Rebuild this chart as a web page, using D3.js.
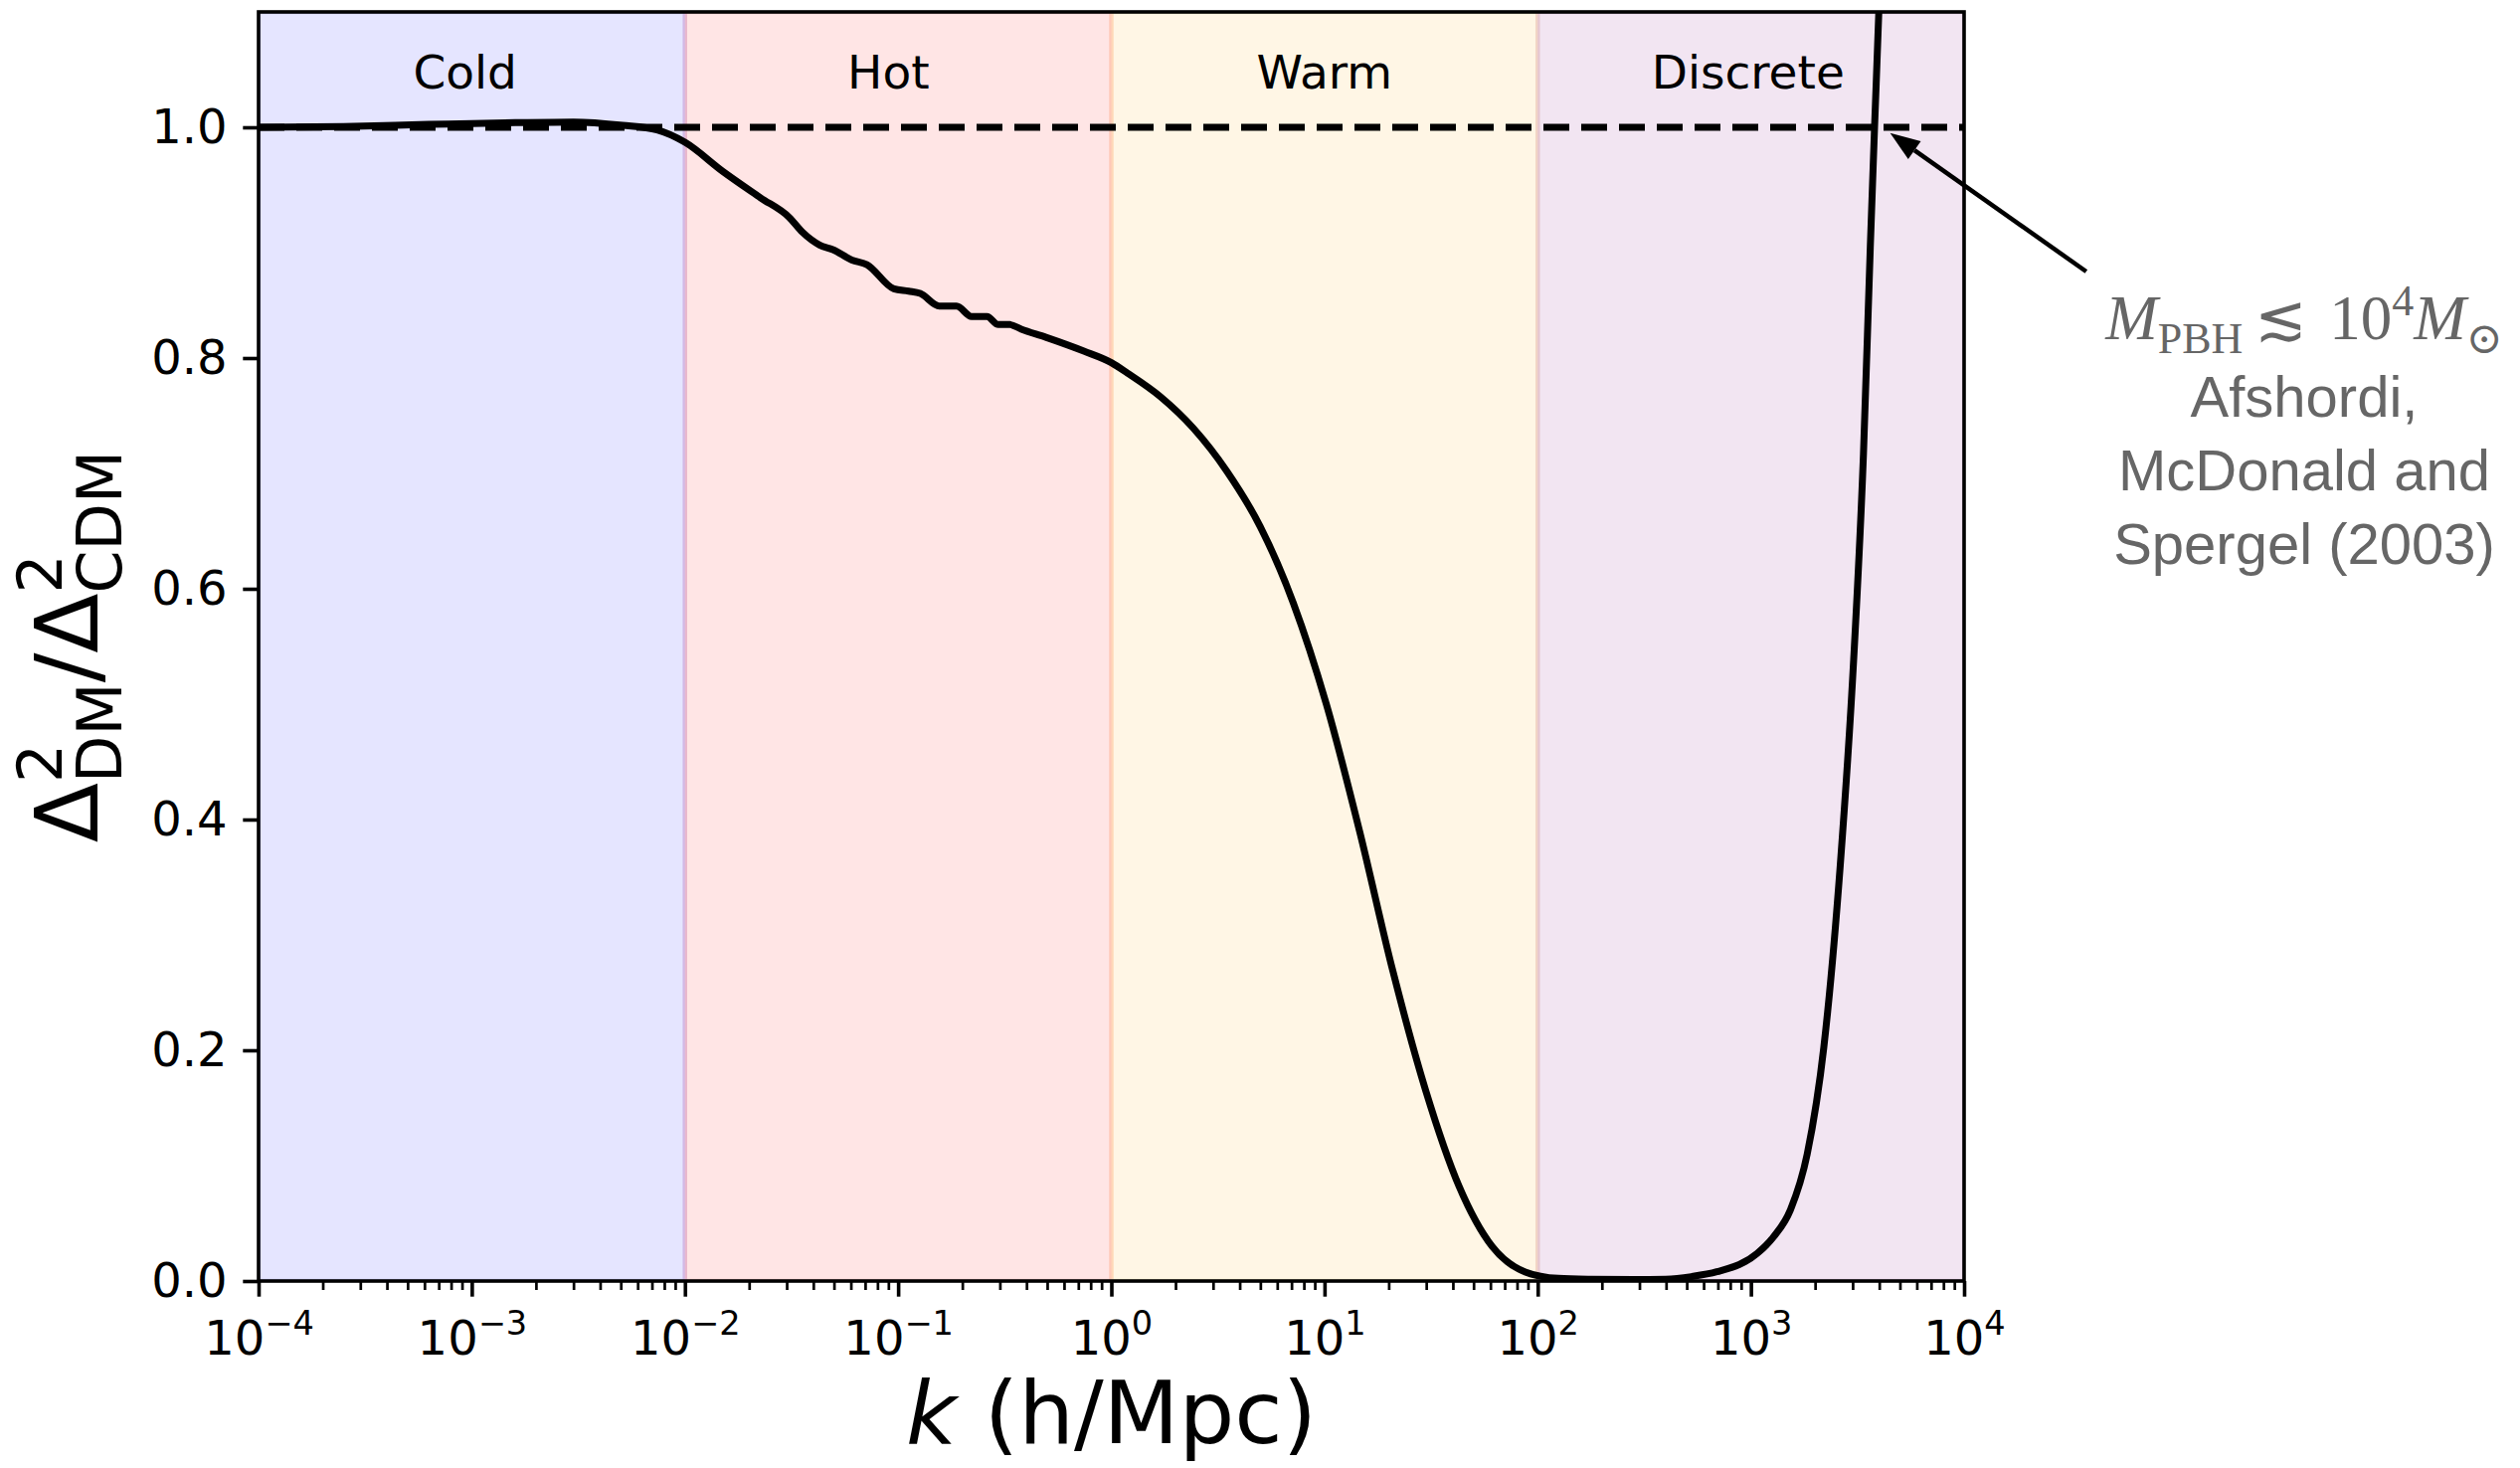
<!DOCTYPE html>
<html lang="en">
<head>
<meta charset="UTF-8">
<title>Delta DM / Delta CDM</title>
<script src="https://d3js.org/d3.v7.min.js"></script>
<style>
  body { margin: 0; background: #fff; }
  svg { display: block; font-family: "DejaVu Sans", sans-serif; }
  .axis text { fill: #000; font-size: 48px; font-family: "DejaVu Sans", sans-serif; }
  .axis .domain { display: none; }
</style>
</head>
<body>
<div id="chart"></div>
<script>
// values
const kValues = [
  1.0e-4, 2.5e-4, 6.3e-4, 1.6e-3, 3.0e-3, 5.1e-3, 7.4e-3, 1.0e-2,
  0.015, 0.0226, 0.0308, 0.0356, 0.0428, 0.0494, 0.0607, 0.0714,
  0.0955, 0.112, 0.127, 0.156, 0.188, 0.221, 0.261, 0.295, 0.334,
  0.378, 0.493, 0.743, 1.0,
  1.19, 1.70, 2.43, 3.48, 4.99, 7.13, 10.2, 14.6, 20.9, 29.9, 42.8,
  61.1, 87.5, 125, 179,
  282, 398, 525, 692, 1072, 1274, 1535, 1837, 2198, 2624, 3034, 3373,
  3631, 3802, 3981, 4169
];
const ratioValues = [
  1.000, 1.0007, 1.0025, 1.0040, 1.0046, 1.0017, 0.9977, 0.987,
  0.962, 0.939, 0.922, 0.909, 0.898, 0.894, 0.885, 0.881,
  0.860, 0.858, 0.856, 0.845, 0.845, 0.836, 0.836, 0.829, 0.829,
  0.825, 0.818, 0.806, 0.796,
  0.787, 0.7665, 0.739, 0.702, 0.654, 0.588, 0.500, 0.390, 0.269, 0.1645, 0.082,
  0.030, 0.0078, 0.0023, 0.0015,
  0.0012, 0.0016, 0.0038, 0.008, 0.024, 0.038, 0.062, 0.11, 0.2026, 0.360, 0.5385, 0.717,
  0.896, 1.000, 1.10, 1.22
];

const regionNames = ["Cold", "Hot", "Warm", "Discrete"];
const regionEdges = [1e-4, 1e-2, 1e0, 1e2, 1e4];
const regionColors = ["blue", "red", "orange", "purple"];
const regionLabelK = [9.3e-4, 9e-2, 10, 970];

const xTickExponents = [-4, -3, -2, -1, 0, 1, 2, 3, 4];
const yTicks = [0.0, 0.2, 0.4, 0.6, 0.8, 1.0];
const cdmLevel = 1.0;

const arrowTip = [4500, 0.995];
const arrowTail = [37400, 0.875];
const noteLines = ["Afshordi,", "McDonald and", "Spergel (2003)"];

const W = 2534, H = 1476;
const margin = {top: 12, right: 559, bottom: 188, left: 260};
const width = W - margin.left - margin.right;
const height = H - margin.top - margin.bottom;

const svg = d3.select("#chart").append("svg")
  .attr("width", W).attr("height", H);

const g = svg.append("g")
  .attr("transform", `translate(${margin.left},${margin.top})`);

const x = d3.scaleLog().domain([1e-4, 1e4]).range([0, width]);
const y = d3.scaleLinear().domain([0, 1.1]).range([height, 0]);

svg.append("defs").append("clipPath").attr("id", "plotclip")
  .append("rect").attr("width", width).attr("height", height);

// shaded regions
const spans = g.append("g").attr("clip-path", "url(#plotclip)");
regionNames.forEach((name, i) => {
  spans.append("rect")
    .attr("x", x(regionEdges[i]))
    .attr("y", 0)
    .attr("width", x(regionEdges[i + 1]) - x(regionEdges[i]))
    .attr("height", height)
    .attr("fill", regionColors[i]).attr("fill-opacity", 0.1)
    .attr("stroke", regionColors[i]).attr("stroke-opacity", 0.1)
    .attr("stroke-width", 4.5);
});

// region labels
g.selectAll(".region-label")
  .data(regionNames)
  .enter().append("text")
  .attr("class", "region-label")
  .attr("x", (d, i) => x(regionLabelK[i]))
  .attr("y", 89 - margin.top)
  .attr("text-anchor", "middle")
  .attr("font-size", "47px")
  .attr("fill", "#000")
  .text(d => d);

// CDM reference (dashed)
g.append("line")
  .attr("x1", x(1e-4)).attr("x2", x(1e4))
  .attr("y1", y(cdmLevel)).attr("y2", y(cdmLevel))
  .attr("stroke", "#000").attr("stroke-width", 7)
  .attr("stroke-dasharray", "26,12");

// ratio curve
const pts = kValues.map((k, i) => [k, ratioValues[i]]);
const line = d3.line()
  .x(d => x(d[0]))
  .y(d => y(d[1]))
  .curve(d3.curveMonotoneX);

g.append("path")
  .datum(pts)
  .attr("clip-path", "url(#plotclip)")
  .attr("d", line)
  .attr("fill", "none")
  .attr("stroke", "#000")
  .attr("stroke-width", 7)
  .attr("stroke-linejoin", "round");

// spines
g.append("rect")
  .attr("width", width).attr("height", height)
  .attr("fill", "none").attr("stroke", "#000").attr("stroke-width", 3.6);

// x axis: major + minor ticks
const majors = xTickExponents.map(e => Math.pow(10, e));
const minors = [];
xTickExponents.slice(0, -1).forEach(e => {
  for (let m = 2; m <= 9; m++) minors.push(m * Math.pow(10, e));
});

const xMinor = g.append("g")
  .attr("class", "axis")
  .attr("transform", `translate(0,${height})`)
  .call(d3.axisBottom(x).tickValues(minors).tickSize(9).tickSizeOuter(0).tickFormat(""));
xMinor.selectAll("line").attr("stroke-width", 2.7);

const xMajor = g.append("g")
  .attr("class", "axis")
  .attr("transform", `translate(0,${height})`)
  .call(d3.axisBottom(x).tickValues(majors).tickSize(15.7).tickSizeOuter(0).tickFormat(""));
xMajor.selectAll("line").attr("stroke-width", 3.6);
xMajor.selectAll(".tick text").remove();

xMajor.selectAll(".tick").each(function(d, i) {
  const e = xTickExponents[i];
  const t = d3.select(this).append("text")
    .attr("y", 73.7)
    .attr("text-anchor", "middle")
    .attr("fill", "#000");
  t.append("tspan").text("10");
  t.append("tspan")
    .attr("font-size", "33.6px")
    .attr("dy", -20)
    .text(e < 0 ? "\u2212" + Math.abs(e) : String(e));
});

// y axis
const yAxis = g.append("g")
  .attr("class", "axis")
  .call(d3.axisLeft(y).tickValues(yTicks).tickSize(15.7).tickPadding(15.7)
    .tickSizeOuter(0).tickFormat(d3.format(".1f")));
yAxis.selectAll("line").attr("stroke-width", 3.6);

// x label
const xl = svg.append("text")
  .attr("x", margin.left + width / 2)
  .attr("y", 1451)
  .attr("text-anchor", "middle")
  .attr("font-size", "88px")
  .attr("fill", "#000");
xl.append("tspan").attr("font-style", "italic").text("k");
xl.append("tspan").text(" (h/Mpc)");

// y label: Delta^2_DM / Delta^2_CDM
const yl = svg.append("text")
  .attr("transform", `translate(98,${margin.top + height / 2}) rotate(-90)`)
  .attr("text-anchor", "middle")
  .attr("font-size", "88px")
  .attr("fill", "#000");
yl.append("tspan").text("\u0394");
yl.append("tspan").attr("font-size", "61.6px").attr("dy", -36).text("2");
yl.append("tspan").attr("font-size", "61.6px").attr("dx", "-0.636em").attr("dy", 60).text("DM");
yl.append("tspan").attr("dy", -24).text("/\u0394");
yl.append("tspan").attr("font-size", "61.6px").attr("dy", -36).text("2");
yl.append("tspan").attr("font-size", "61.6px").attr("dx", "-0.636em").attr("dy", 60).text("CDM");

// annotation arrow
const tx = margin.left + x(arrowTail[0]), ty = margin.top + y(arrowTail[1]);
const hx = margin.left + x(arrowTip[0]), hy = margin.top + y(arrowTip[1]);
const ang = Math.atan2(hy - ty, hx - tx);
const headLen = 30, headHalf = 11;
const bx = hx - headLen * Math.cos(ang), by = hy - headLen * Math.sin(ang);
svg.append("line")
  .attr("x1", tx).attr("y1", ty).attr("x2", bx).attr("y2", by)
  .attr("stroke", "#000").attr("stroke-width", 4.5);
svg.append("path")
  .attr("d", `M${hx},${hy}L${bx + headHalf * Math.sin(ang)},${by - headHalf * Math.cos(ang)}` +
    `L${bx - headHalf * Math.sin(ang)},${by + headHalf * Math.cos(ang)}Z`)
  .attr("fill", "#000");

// annotation text
const noteX = 2317;
const note = svg.append("text")
  .attr("x", noteX).attr("y", 341)
  .attr("text-anchor", "middle")
  .attr("fill", "#666")
  .attr("font-family", "'Liberation Serif', 'DejaVu Serif', serif")
  .attr("font-size", "63px");
note.append("tspan").attr("font-style", "italic").text("M");
note.append("tspan").attr("font-size", "44px").attr("dy", 14).text("PBH");
note.append("tspan").attr("dx", 12).attr("dy", -14).text("\u2272");
note.append("tspan").attr("dx", 22).text("10");
note.append("tspan").attr("font-size", "44px").attr("dy", -24).text("4");
note.append("tspan").attr("font-style", "italic").attr("dy", 24).text("M");
note.append("tspan").attr("font-size", "44px").attr("dy", 14).text("\u2299");

svg.selectAll(".note-line")
  .data(noteLines)
  .enter().append("text")
  .attr("class", "note-line")
  .attr("x", noteX)
  .attr("y", (d, i) => 419 + i * 74)
  .attr("text-anchor", "middle")
  .attr("fill", "#666")
  .attr("font-family", "'Liberation Sans', Arial, sans-serif")
  .attr("font-size", "58px")
  .text(d => d);
</script>
</body>
</html>
